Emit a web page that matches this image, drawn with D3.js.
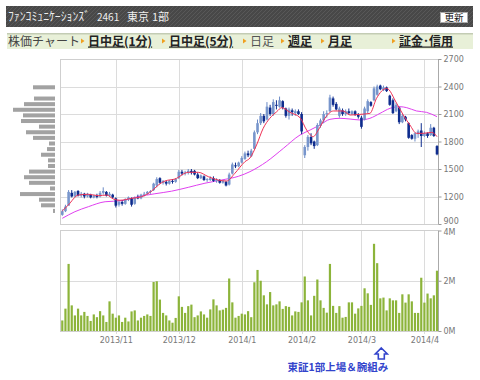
<!DOCTYPE html>
<html><head><meta charset="utf-8">
<script src="https://cdn.jsdelivr.net/npm/d3@7"></script>
<style>body{margin:0;background:#fff;}svg{display:block;}</style>
</head><body><svg id="c" width="480" height="380"></svg>
<script>
// ---------- DATA ----------
const headerName = "ﾌｧﾝｺﾐｭﾆｹｰｼｮﾝｽﾞ";
const headerCode = "2461";
const headerMarket = ["東京", "1部"];
const tabLabels = ["日中足(1分)", "日中足(5分)", "日足", "週足", "月足", "証金･信用"];
const tabActive = [true, true, false, true, true, true];

const openP = [1000,1040,1100,1240,1200,1260,1210,1230,1200,1220,1190,1210,1200,1240,1250,1210,1220,
 1180,1110,1140,1120,1170,1180,1120,1190,1180,1220,1230,1250,1270,1320,1400,1350,1360,1340,1370,1360,
 1400,1470,1450,1460,1480,1480,1440,1400,1420,1380,1380,1400,1370,1380,1350,1360,1330,1450,1540,1530,
 1570,1610,1670,1640,1720,1900,2000,2080,2040,2170,2100,2200,2180,2240,2160,2080,2140,2110,2130,
 2100,1650,1740,1850,1800,1760,1970,2030,2100,2130,2270,2210,2080,2140,2100,2130,2100,2130,2090,
 2060,2040,2130,2230,2250,2310,2410,2360,2390,2300,2250,2130,2170,2010,2070,2000,1870,1830,1880,1920,1860,1890,1870,1950,1750];
const highP = [1060,1110,1270,1270,1260,1270,1250,1240,1240,1230,1220,1230,1260,1300,1260,1250,1230,
 1190,1160,1160,1180,1200,1190,1200,1220,1230,1250,1260,1270,1350,1410,1410,1380,1370,1380,1390,1400,
 1490,1490,1480,1500,1500,1490,1460,1440,1430,1400,1420,1420,1400,1390,1380,1370,1460,1570,1570,1580,
 1640,1690,1700,1720,1920,2040,2110,2100,2230,2200,2260,2250,2290,2250,2170,2170,2160,2150,2150,
 2120,1760,1870,1890,1810,2000,2050,2130,2140,2310,2290,2230,2180,2160,2150,2160,2140,2140,2110,
 2080,2180,2260,2240,2400,2420,2420,2410,2400,2310,2270,2220,2180,2100,2080,2010,1880,1900,1930,2000,1910,1900,1990,1960,1760];
const lowP = [990,1030,1100,1190,1190,1200,1190,1180,1190,1180,1180,1180,1190,1220,1200,1200,1180,
 1080,1090,1100,1110,1150,1090,1110,1170,1170,1200,1220,1230,1260,1300,1340,1330,1320,1330,1340,1350,
 1390,1430,1430,1440,1440,1430,1390,1390,1370,1360,1370,1360,1350,1340,1340,1310,1320,1440,1510,1520,
 1560,1600,1630,1630,1720,1880,1980,2000,2030,2080,2080,2150,2170,2150,2060,2040,2080,2080,2090,
 1880,1620,1700,1760,1720,1750,1950,2000,2060,2120,2180,2140,2060,2080,2080,2090,2090,2080,2050,
 1940,2030,2110,2180,2240,2300,2360,2350,2340,2190,2100,2120,1990,2000,2020,1830,1820,1800,1840,1740,1850,1840,1860,1850,1650];
const closeP = [1040,1090,1250,1200,1250,1210,1230,1200,1230,1190,1210,1195,1240,1260,1210,1230,1190,
 1100,1140,1120,1170,1190,1110,1190,1180,1220,1230,1250,1260,1340,1390,1350,1370,1340,1370,1360,1390,
 1470,1450,1460,1480,1460,1440,1400,1430,1380,1390,1400,1370,1380,1350,1370,1320,1440,1550,1530,1570,
 1620,1670,1650,1700,1900,2000,2080,2020,2180,2100,2230,2190,2250,2170,2080,2150,2120,2130,2100,
 1910,1740,1850,1780,1750,1980,2030,2100,2110,2280,2200,2150,2160,2100,2130,2110,2130,2090,2070,
 1960,2160,2240,2190,2380,2400,2370,2390,2350,2200,2110,2200,2010,2080,2040,1840,1830,1890,1910,1860,1890,1860,1950,1860,1660];
const volumeM = [0.42,0.89,2.67,1.02,0.62,0.89,0.62,0.76,0.60,0.40,
 0.66,0.55,0.79,0.62,0.36,1.18,0.69,0.53,0.62,0.36,
 0.53,0.38,0.78,0.82,0.42,0.53,0.60,0.66,0.60,1.95,
 1.98,1.25,0.72,0.62,0.42,0.33,0.52,1.38,0.96,0.72,
 0.99,1.05,0.55,0.62,0.78,0.66,0.53,0.86,1.26,1.02,
 0.82,0.85,0.92,2.09,1.14,0.53,0.60,0.69,0.66,0.79,
 0.55,1.94,2.43,2.00,1.42,1.06,1.55,1.02,1.06,1.18,
 0.88,0.99,0.96,0.62,0.78,0.76,1.14,2.17,1.22,0.62,
 1.40,2.05,1.22,0.92,0.73,2.67,1.00,0.72,0.99,0.53,
 0.56,1.14,1.14,0.69,0.90,1.00,1.70,1.50,1.04,3.47,
 2.70,1.30,1.33,0.82,1.30,1.22,1.22,0.72,1.46,1.13,
 1.46,1.18,0.72,0.72,2.12,1.13,1.49,1.30,1.42,2.40];

// moving averages (day index, price)
const maShortIdx = [0,1.9,5.1,8.3,11.4,14.1,16.2,18.3,22,25.2,28.4,30.5,32.6,35.8,40,43.2,46.4,49.5,52.2,54.8,58,59.6,61.7,63.8,65.9,68.1,69.7,72.3,75.5,77.6,79.7,81.3,83.4,86.1,89.2,91.4,94.5,97.7,99.8,103,106.2,108.3,110.4,112.5,114.6,117.3,119];
const maShort    = [1042,1107,1216,1224,1209,1216,1173,1159,1180,1198,1260,1325,1369,1391,1464,1464,1416,1380,1369,1453,1580,1620,1762,1944,2053,2125,2169,2118,2060,1925,1853,1925,2053,2133,2133,2089,2096,2107,2271,2380,2216,2089,1980,1889,1889,1900,1853];
const maLongIdx = [0,4,8.3,13.6,18.9,24.1,29.4,34.7,40,45.3,50.6,55.9,59.6,64.9,70.2,75.5,78.7,81.8,85,88.2,91.4,94.5,97.7,100.9,104.1,107.2,109.4,112.5,115.7,119];
const maLong    = [962,1034,1089,1143,1154,1198,1230,1258,1300,1345,1380,1420,1471,1580,1725,1871,1925,1980,2042,2053,2045,2035,2053,2107,2162,2180,2169,2133,2118,2071];

// price-by-volume profile (bins from low to high)
const profileLow = 1012, profileStep = 61.3;
const profileVol = [2,14,16,35,5,26,31,26,7,7,14,8,6,22,29,16,34,32,42,31,21,0,22];

const monthIdx = [17,37,57,76,95,115];
const monthLabels = ["2013/11","2013/12","2014/1","2014/2","2014/3","2014/4"];
const priceTicks = [900,1200,1500,1800,2100,2400,2700];
const volTicks = [0,2,4];
const volTickLabels = ["0M","2M","4M"];
const noteIdx = 101;
const noteText = "東証1部上場＆腕組み";

// ---------- LAYOUT ----------
const svg = d3.select("#c");
const JP = "'Noto Sans CJK JP','Noto Sans',sans-serif";
const NUM = "'DejaVu Sans',Verdana,sans-serif";
const L = 60, R = 439, PT = 59, PB = 224, VT = 230.5, VB = 331;
const n = closeP.length;
const x = d3.scaleLinear().domain([0, n - 1]).range([62.3, 437]);
const y = d3.scaleLinear().domain([900, 2700]).range([PB, PT]);
const yv = d3.scaleLinear().domain([0, 4]).range([VB, VT]);

// header
const defs = svg.append("defs");
const pat = defs.append("pattern").attr("id","stripe").attr("width",4).attr("height",4)
  .attr("patternUnits","userSpaceOnUse");
pat.append("rect").attr("width",4).attr("height",4).attr("fill","#484848");
pat.append("path").attr("d","M-1,1 l2,-2 M0,4 l4,-4 M3,5 l2,-2").attr("stroke","#585858").attr("stroke-width",1);
svg.append("rect").attr("x",6).attr("y",6).attr("width",467).attr("height",21).attr("fill","url(#stripe)");
const ht = svg.append("text").attr("y",20.5).attr("fill","#eeeeee").attr("font-family",JP).attr("font-size",11);
ht.append("tspan").attr("x",8).attr("font-size",12).attr("textLength",82).attr("lengthAdjust","spacingAndGlyphs").text(headerName);
ht.append("tspan").attr("x",97).attr("font-size",10).text(headerCode);
ht.append("tspan").attr("x",127).text(headerMarket[0]);
ht.append("tspan").attr("x",152).text(headerMarket[1]);
svg.append("rect").attr("x",440.5).attr("y",12.5).attr("width",27).attr("height",10).attr("fill","#fff").attr("stroke","#aaa");
svg.append("text").attr("x",454).attr("y",21).attr("text-anchor","middle").attr("font-family",JP)
  .attr("font-size",9.5).attr("fill","#111").text("更新");

// tab row
svg.append("rect").attr("x",7).attr("y",33).attr("width",466).attr("height",16).attr("fill","#e8f0d8");
svg.append("rect").attr("x",7).attr("y",33).attr("width",466).attr("height",1.5).attr("fill","#c3ccb4");
svg.append("text").attr("x",8).attr("y",45.5).attr("font-family",JP).attr("font-size",12).attr("fill","#444").text("株価チャート");
const tabX = [88,169,250,288,328,399];
tabLabels.forEach((t,i)=>{
  const tx = tabX[i];
  svg.append("path").attr("d",`M${tx-7},38.5 l3.5,2.5 l-3.5,2.5 z`).attr("fill","#f0a020");
  svg.append("text").attr("x",tx).attr("y",45.5).attr("font-family",JP).attr("font-size",12)
    .attr("font-weight",tabActive[i]?"bold":"normal").attr("fill",tabActive[i]?"#222":"#555")
    .attr("text-decoration",tabActive[i]?"underline":"none").text(t);
});

// panels
const grid = svg.append("g").attr("stroke","#dcdcdc").attr("stroke-width",1).attr("shape-rendering","crispEdges");
priceTicks.slice(1,-1).forEach(p=>grid.append("line").attr("x1",L).attr("x2",R).attr("y1",Math.round(y(p))+0.5).attr("y2",Math.round(y(p))+0.5));
grid.append("line").attr("x1",L).attr("x2",R).attr("y1",Math.round(yv(2))+0.5).attr("y2",Math.round(yv(2))+0.5);
monthIdx.forEach(m=>{
  const xx = Math.round(x(m))+0.5;
  grid.append("line").attr("x1",xx).attr("x2",xx).attr("y1",PT).attr("y2",PB);
  grid.append("line").attr("x1",xx).attr("x2",xx).attr("y1",VT).attr("y2",VB+3);
});
svg.append("rect").attr("x",L+0.5).attr("y",PT+0.5).attr("width",R-L-1).attr("height",PB-PT).attr("fill","none").attr("stroke","#cfcfcf").attr("shape-rendering","crispEdges");
svg.append("rect").attr("x",L+0.5).attr("y",VT).attr("width",R-L-1).attr("height",VB-VT).attr("fill","none").attr("stroke","#cfcfcf").attr("shape-rendering","crispEdges");
svg.append("line").attr("x1",R-0.5).attr("x2",R-0.5).attr("y1",PT).attr("y2",PB).attr("stroke","#aaa").attr("shape-rendering","crispEdges");
svg.append("line").attr("x1",R-0.5).attr("x2",R-0.5).attr("y1",VT).attr("y2",VB).attr("stroke","#aaa").attr("shape-rendering","crispEdges");

// right axes
const yAxis = d3.axisRight(y).tickValues(priceTicks).tickFormat(d3.format("d")).tickSize(3).tickPadding(2);
const ga = svg.append("g").attr("transform",`translate(${R-0.5},0)`).call(yAxis);
const vAxis = d3.axisRight(yv).tickValues(volTicks).tickFormat((d,i)=>volTickLabels[i]).tickSize(3).tickPadding(2);
const gv = svg.append("g").attr("transform",`translate(${R-0.5},0)`).call(vAxis);
[ga,gv].forEach(g=>{
  g.select(".domain").remove();
  g.selectAll("line").attr("stroke","#999");
  g.selectAll("text").attr("font-family",NUM).attr("font-size",8).attr("fill","#777");
});
// keep the bottom price label and the top volume label apart
ga.selectAll(".tick").filter(d=>d===900).select("text").attr("dy","-0.05em");
gv.selectAll(".tick").filter(d=>d===4).select("text").attr("dy","0.5em");
// x labels
const xAxis = d3.axisBottom(x).tickValues(monthIdx).tickFormat((d,i)=>monthLabels[i]).tickSize(0).tickPadding(6);
const gx = svg.append("g").attr("transform",`translate(0,${VB})`).call(xAxis);
gx.select(".domain").remove();
gx.selectAll("text").attr("font-family",NUM).attr("font-size",8).attr("fill","#777");

// price-by-volume profile
const px = d3.scaleLinear().domain([0,45]).range([0,45]);
profileVol.forEach((v,i)=>{
  if (!v) return;
  const yTop = y(profileLow + (i+1)*profileStep), yBot = y(profileLow + i*profileStep);
  svg.append("rect").attr("x",55-px(v)).attr("y",yTop+0.8).attr("width",px(v)).attr("height",yBot-yTop-1.6).attr("fill","#a2a2a2");
});

// volume bars
svg.append("g").selectAll("rect").data(volumeM).join("rect")
  .attr("x",(d,i)=>x(i)-1.1).attr("width",2.2)
  .attr("y",d=>yv(d)).attr("height",d=>VB-yv(d))
  .attr("fill","#8cb43a");

// long MA
const line = (idx)=>d3.line().x((d,i)=>x(idx[i])).y(d=>y(d)).curve(d3.curveMonotoneX);
svg.append("path").attr("d",line(maLongIdx)(maLong)).attr("fill","none").attr("stroke","#e040f0").attr("stroke-width",1);

// candles
const cg = svg.append("g");
closeP.forEach((c,i)=>{
  const up = c >= openP[i];
  const col = up ? "#7896cc" : "#0e2c8e";
  const cx = x(i);
  cg.append("line").attr("x1",cx).attr("x2",cx).attr("y1",y(highP[i])).attr("y2",y(lowP[i]))
    .attr("stroke", up ? "#6a8ac6" : "#0e2c8e").attr("stroke-width",1);
  const t = y(Math.max(c,openP[i])), b = y(Math.min(c,openP[i]));
  cg.append("rect").attr("x",cx-1.3).attr("width",2.6).attr("y",t).attr("height",Math.max(1,b-t)).attr("fill",col);
});
// short MA
svg.append("path").attr("d",line(maShortIdx)(maShort)).attr("fill","none").attr("stroke","#ee3055").attr("stroke-width",1);

// annotation
const ax = x(noteIdx)+1;
svg.append("path").attr("d",`M${ax},348 l6,6 h-3 v5 h-6 v-5 h-3 z`).attr("fill","#fff").attr("stroke","#3344cc").attr("stroke-width",1.6).attr("stroke-linejoin","miter");
svg.append("text").attr("x",ax+7).attr("y",371).attr("text-anchor","end").attr("font-family",JP)
  .attr("font-size",10.5).attr("font-weight","bold").attr("fill","#3344cc").text(noteText);
</script></body></html>
